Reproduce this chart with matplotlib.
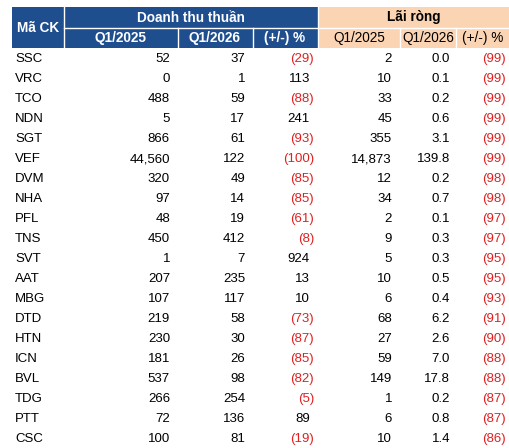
import matplotlib
matplotlib.use("Agg")
import matplotlib.pyplot as plt
from matplotlib.patches import Rectangle

tickers = ["SSC","VRC","TCO","NDN","SGT","VEF","DVM","NHA","PFL","TNS","SVT","AAT","MBG","DTD","HTN","ICN","BVL","TDG","PTT","CSC"]
dt_2025 = [52,0,488,5,866,44560,320,97,48,450,1,207,107,219,230,181,537,266,72,100]
dt_2026 = [37,1,59,17,61,122,49,14,19,412,7,235,117,58,30,26,98,254,136,81]
dt_pct = [-29,113,-88,241,-93,-100,-85,-85,-61,-8,924,13,10,-73,-87,-85,-82,-5,89,-19]
lr_2025 = [2,10,33,45,355,14873,12,34,2,9,5,10,6,68,27,59,149,1,6,10]
lr_2026 = [0.0,0.1,0.2,0.6,3.1,139.8,0.2,0.7,0.1,0.3,0.3,0.5,0.4,6.2,2.6,7.0,17.8,0.2,0.8,1.4]
lr_pct = [-99,-99,-99,-99,-99,-99,-98,-98,-97,-97,-95,-95,-93,-91,-90,-88,-88,-87,-87,-86]

plt.rcParams['font.family'] = ['Liberation Sans', 'DejaVu Sans']
fig = plt.figure(figsize=(5.10, 4.48), dpi=100)
ax = fig.add_axes([0, 0, 1, 1])
ax.set_xlim(0, 510); ax.set_ylim(448, 0); ax.axis('off')

BLUE = "#1F4E8F"; SALMON = "#FBD4B4"; RED = "#E02020"
FS = 9.2
# header backgrounds
ax.add_patch(Rectangle((12, 7), 306, 41, color=BLUE, lw=0))
ax.add_patch(Rectangle((318, 7), 192, 41, color=SALMON, lw=0))
# white separators
ax.plot([64, 64], [7, 48], color="white", lw=1)
ax.plot([64, 510], [28, 28], color="white", lw=1)
for x in [178, 253]:
    ax.plot([x, x], [28, 48], color="white", lw=1)
for x in [400, 456]:
    ax.plot([x, x], [28, 48], color="white", lw=1)
ax.plot([318, 318], [7, 48], color="white", lw=1)

hb = dict(fontsize=FS+0.6, fontweight='bold', ha='center', va='center')
ax.text(38, 28, "Mã CK", color="white", **hb)
ax.text(191, 17.5, "Doanh thu thuần", color="white", **hb)
ax.text(414, 17.5, "Lãi ròng", color="black", **hb)
for x, t in [(121, "Q1/2025"), (215, "Q1/2026"), (285, "(+/-) %")]:
    ax.text(x, 38, t, color="white", **hb)
for x, t in [(359, "Q1/2025"), (428, "Q1/2026"), (483, "(+/-) %")]:
    ax.text(x, 38, t, color="black", fontsize=FS+0.6, ha='center', va='center')

def fmt(v, dec=0):
    s = f"{abs(v):,.{dec}f}"
    return s

for i, tk in enumerate(tickers):
    y = 59 + 20 * i
    kw = dict(fontsize=FS+0.3, va='center')
    ax.text(15, y, tk, ha='left', color="black", **kw)
    ax.text(170, y, fmt(dt_2025[i]), ha='right', color="black", **kw)
    ax.text(245, y, fmt(dt_2026[i]), ha='right', color="black", **kw)
    v = dt_pct[i]
    if v < 0:
        ax.text(314, y, f"({fmt(v)})", ha='right', color=RED, **kw)
    else:
        ax.text(310, y, fmt(v), ha='right', color="black", **kw)
    ax.text(392, y, fmt(lr_2025[i]), ha='right', color="black", **kw)
    ax.text(450, y, fmt(lr_2026[i], 1), ha='right', color="black", **kw)
    v = lr_pct[i]
    if v < 0:
        ax.text(506, y, f"({fmt(v)})", ha='right', color=RED, **kw)
    else:
        ax.text(502, y, fmt(v), ha='right', color="black", **kw)

fig.savefig("out.png", dpi=100, facecolor="white")
